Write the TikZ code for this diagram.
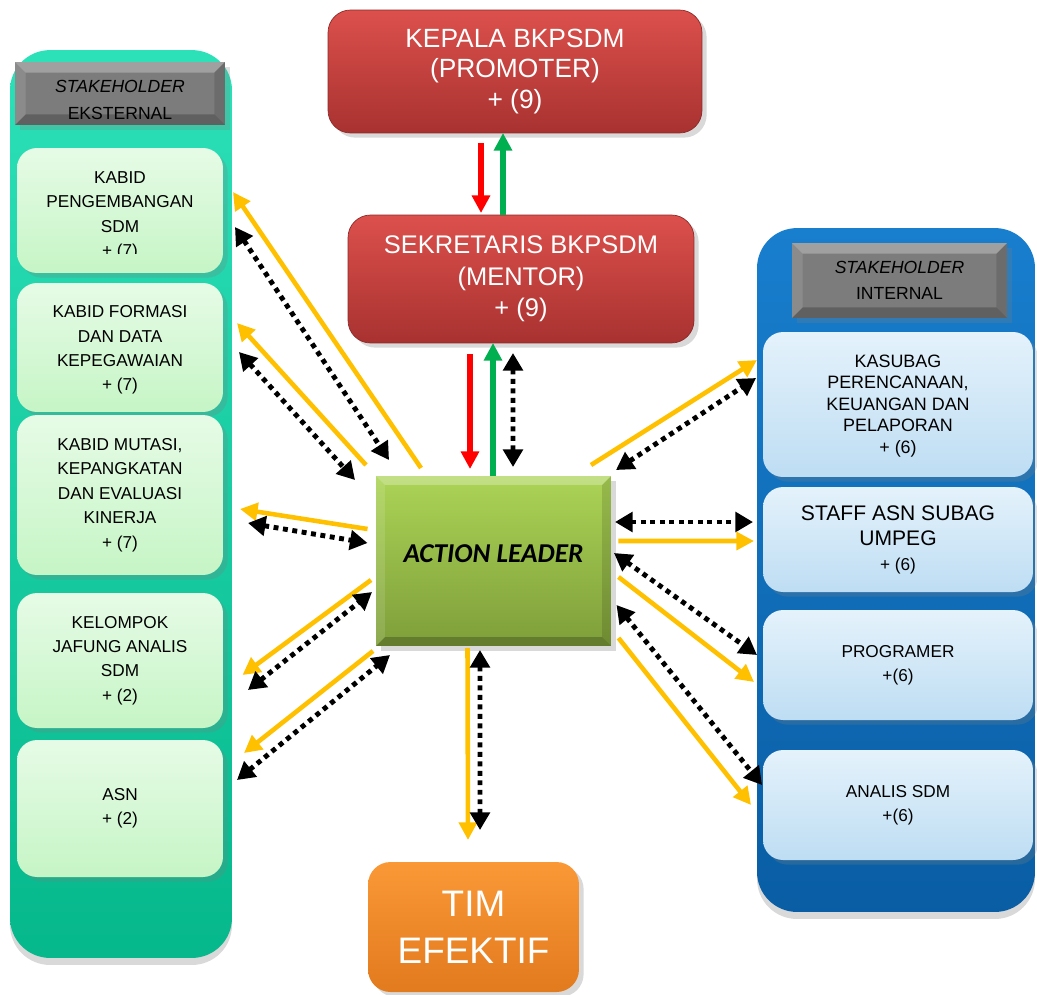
\documentclass[tikz,border=0pt]{standalone}
\usepackage{fontspec}
\setmainfont{Liberation Sans}
\newfontfamily\carlito{Carlito}
\usetikzlibrary{arrows.meta,shadows}

\definecolor{ArrowYellow}{RGB}{255,192,0}
\definecolor{ArrowRed}{RGB}{255,0,0}
\definecolor{ArrowGreen}{RGB}{0,176,80}
\definecolor{RedTop}{RGB}{220,80,76}
\definecolor{RedBot}{RGB}{168,50,48}
\definecolor{LeaderTop}{RGB}{172,212,86}
\definecolor{LeaderBot}{RGB}{126,158,58}
\definecolor{TimTop}{RGB}{250,152,54}
\definecolor{TimBot}{RGB}{226,122,30}
\definecolor{ExtTeal}{RGB}{6,200,152}
\definecolor{ExtTealTop}{RGB}{44,224,184}
\definecolor{ExtBoxTop}{RGB}{230,251,230}
\definecolor{ExtBoxBot}{RGB}{198,245,198}
\definecolor{IntBlue}{RGB}{10,106,186}
\definecolor{IntBlueTop}{RGB}{24,126,206}
\definecolor{IntBoxTop}{RGB}{228,242,251}
\definecolor{IntBoxBot}{RGB}{190,221,243}
\definecolor{HeadGray}{RGB}{124,124,124}

\newcommand{\lblfont}{\fontsize{9.8}{13.9}\selectfont}
\newcommand{\intfont}{\fontsize{10.2}{12.2}\selectfont}
\newcommand{\hdrfont}{\fontsize{10}{15.2}\selectfont}
\newcommand{\redfont}{\fontsize{15}{17.5}\selectfont}
\newcommand{\timfont}{\fontsize{21}{26.6}\selectfont}

\begin{document}
\begin{tikzpicture}[x=0.02cm, y=-0.02cm,
    every node/.style={inner sep=0pt, outer sep=0pt, align=center},
    bevel/.style={path picture={
        \fill[white,opacity=.28] (path picture bounding box.north west) -- (path picture bounding box.north east)
          -- ([shift={(-#1,-#1)}]path picture bounding box.north east) -- ([shift={(#1,-#1)}]path picture bounding box.north west) -- cycle; %top
        \fill[white,opacity=.12] (path picture bounding box.north west) -- ([shift={(#1,-#1)}]path picture bounding box.north west)
          -- ([shift={(#1,#1)}]path picture bounding box.south west) -- (path picture bounding box.south west) -- cycle; %left
        \fill[black,opacity=.22] (path picture bounding box.south west) -- (path picture bounding box.south east)
          -- ([shift={(-#1,#1)}]path picture bounding box.south east) -- ([shift={(#1,#1)}]path picture bounding box.south west) -- cycle; %bottom
        \fill[black,opacity=.12] (path picture bounding box.north east) -- ([shift={(-#1,-#1)}]path picture bounding box.north east)
          -- ([shift={(-#1,#1)}]path picture bounding box.south east) -- (path picture bounding box.south east) -- cycle; %right
    }},
    extpanel/.style={rounded corners=0.8cm, top color=ExtTealTop, middle color=ExtTeal, bottom color=ExtTeal!92!black,
        drop shadow={opacity=0.3, shadow xshift=0pt, shadow yshift=-4pt}},
    intpanel/.style={rounded corners=0.8cm, top color=IntBlueTop, middle color=IntBlue, bottom color=IntBlue!88!black,
        drop shadow={opacity=0.3, shadow xshift=0pt, shadow yshift=-4pt}},
    hdrbox/.style={fill=HeadGray, bevel=6pt, font=\hdrfont, drop shadow={opacity=0.25}},
    extbox/.style={rounded corners=0.4cm, top color=ExtBoxTop, bottom color=ExtBoxBot, minimum width=4.12cm,
        font=\lblfont, drop shadow={opacity=0.25}},
    intbox/.style={rounded corners=0.4cm, top color=IntBoxTop, bottom color=IntBoxBot, minimum width=5.4cm,
        font=\lblfont, drop shadow={opacity=0.25}},
    lbl/.style={font=\lblfont},
    redbox/.style={rounded corners=0.45cm, top color=RedTop, bottom color=RedBot, draw=RedBot!85!black,
        text=white, font=\redfont, drop shadow={opacity=0.3}},
    leaderbox/.style={top color=LeaderTop, bottom color=LeaderBot, bevel=5pt, drop shadow={opacity=0.3},
        font=\carlito\bfseries\itshape\fontsize{15.5}{18}\selectfont},
    timbox/.style={rounded corners=0.45cm, top color=TimTop, bottom color=TimBot, text=white, font=\timfont,
        drop shadow={opacity=0.3}},
    yarrow/.style={draw=ArrowYellow, line width=2.6pt, -{Triangle[length=10pt,width=10pt]}},
    rarrow/.style={draw=ArrowRed, line width=3pt, -{Triangle[length=10pt,width=10pt]}},
    garrow/.style={draw=ArrowGreen, line width=3pt, -{Triangle[length=10pt,width=10pt]}},
    darrow/.style={draw=black, line width=2.8pt, dash pattern=on 2.8pt off 2.6pt,
        {Triangle[length=10pt,width=11pt]}-{Triangle[length=10pt,width=11pt]}}]

    \useasboundingbox (0,0) rectangle (1037,994);

    %Stakeholder eksternal
    \node[extpanel, minimum width=4.44cm, minimum height=18.16cm] (ext) at (121,504) {};
    \node[hdrbox, minimum width=4.2cm, minimum height=1.26cm] (exthead) at (120,93.5) {};
    \node[font=\hdrfont] (extheadtxt) at (120,100) {\textit{STAKEHOLDER}\\EKSTERNAL}; %sits low in the box
    \node[extbox, minimum height=2.5cm] (ext1) at (120,210.5) {};
    \begin{scope}
        \clip (17,148) rectangle (223,253); %text cut off
        \node[lbl] (ext1txt) at (120,216) {KABID\\PENGEMBANGAN\\SDM\\+ (7)};
    \end{scope}
    \node[extbox, minimum height=2.58cm] (ext2) at (120,347.5) {};
    \begin{scope}
        \clip (17,283) rectangle (223,393); %text cut off
        \node[lbl] (ext2txt) at (120,350) {KABID FORMASI\\DAN DATA\\KEPEGAWAIAN\\+ (7)};
    \end{scope}
    \node[extbox, minimum height=3.2cm] (ext3) at (120,495) {KABID MUTASI,\\KEPANGKATAN\\DAN EVALUASI\\KINERJA\\+ (7)};
    \node[extbox, minimum height=2.7cm] (ext4) at (120,660.5) {KELOMPOK\\JAFUNG ANALIS\\SDM\\+ (2)};
    \node[extbox, minimum height=2.74cm] (ext5) at (120,808.5) {ASN\\+ (2)};

    %Stakeholder internal
    \node[intpanel, minimum width=5.56cm, minimum height=13.68cm] (int) at (896,570) {};
    \node[hdrbox, minimum width=4.3cm, minimum height=1.5cm] (inthead) at (899.5,280.5) {\textit{STAKEHOLDER}\\INTERNAL};
    \node[intbox, minimum height=2.9cm] (int1) at (898,404.5) {};
    \begin{scope}
        \clip (763,332) rectangle (1033,457); %text cut off
        \node[lbl, font=\intfont] (int1txt) at (898,406) {KASUBAG\\PERENCANAAN,\\KEUANGAN DAN\\PELAPORAN\\+ (6)};
    \end{scope}
    \node[intbox, minimum height=2.1cm, font=\fontsize{12}{14.2}\selectfont] (int2) at (898,539.5)
        {STAFF ASN SUBAG\\UMPEG\\{\lblfont + (6)}};
    \node[intbox, minimum height=2.2cm] (int3) at (898,665) {PROGRAMER\\+(6)};
    \node[intbox, minimum height=2.2cm] (int4) at (898,805) {ANALIS SDM\\+(6)};

    %Promoter, mentor, leader, team
    \node[redbox, minimum width=7.48cm, minimum height=2.46cm] (kepala) at (515,71.5) {KEPALA BKPSDM\\(PROMOTER)\\+ (9)};
    \node[redbox, minimum width=6.92cm, minimum height=2.56cm, font=\fontsize{14.5}{18}\selectfont] (sekr) at (521,279) {SEKRETARIS BKPSDM\\(MENTOR)\\+ (9)};
    \node[leaderbox, minimum width=4.7cm, minimum height=3.4cm] (al) at (493.5,561) {\raisebox{8pt}{ACTION LEADER}};
    \node[timbox, minimum width=4.22cm, minimum height=2.6cm] (tim) at (473.5,927) {TIM\\EFEKTIF};

    %Top chain
    \draw[rarrow] ([shift={(-34,10)}]kepala.south) -- ([shift={(-40,-2)}]sekr.north); %down
    \draw[garrow] ([shift={(-18,0)}]sekr.north) -- ([shift={(-12,0)}]kepala.south); %up
    \draw[rarrow] ([shift={(-51,11)}]sekr.south) -- ([shift={(-23.5,-7)}]al.north); %down
    \draw[garrow] ([shift={(-0.5,0)}]al.north) -- ([shift={(-28,0)}]sekr.south); %up
    \draw[darrow] ([shift={(-8,10)}]sekr.south) -- ([shift={(19.5,-9)}]al.north); %both ways

    %Left side
    \draw[yarrow] ([shift={(45,-8)}]al.north west) -- ([shift={(10,-18.5)}]ext1.east);
    \draw[darrow] ([shift={(12,16.5)}]ext1.east) -- ([shift={(13,-16)}]al.north west);
    \draw[yarrow] ([shift={(-10,-11)}]al.north west) -- ([shift={(14,-24.5)}]ext2.east);
    \draw[darrow] ([shift={(16,4.5)}]ext2.east) -- ([shift={(-21,4)}]al.north west);
    \draw[yarrow] ([shift={(-8.5,-32)}]al.west) -- ([shift={(17,14)}]ext3.east);
    \draw[darrow] ([shift={(25,28)}]ext3.east) -- ([shift={(-8.5,-18)}]al.west);
    \draw[yarrow] ([shift={(-5,19)}]al.west) -- ([shift={(19.5,14.5)}]ext4.east);
    \draw[darrow] ([shift={(25,29.5)}]ext4.east) -- ([shift={(-4,31)}]al.west);
    \draw[yarrow] ([shift={(-3,5)}]al.south west) -- ([shift={(21,-55.5)}]ext5.east);
    \draw[darrow] ([shift={(14,-28.5)}]ext5.east) -- ([shift={(14,9)}]al.south west);

    %Right side
    \draw[yarrow] ([shift={(-20,-11)}]al.north east) -- ([shift={(-6,-44.5)}]int1.west);
    \draw[darrow] ([shift={(5,-6)}]al.north east) -- ([shift={(-7,-26.5)}]int1.west);
    \draw[darrow] ([shift={(4,-39)}]al.east) -- ([shift={(-10,-17.5)}]int2.west);
    \draw[yarrow] ([shift={(7.5,-20)}]al.east) -- ([shift={(-9,1.5)}]int2.west);
    \draw[darrow] ([shift={(3,-8)}]al.east) -- ([shift={(-6,-10)}]int3.west);
    \draw[yarrow] ([shift={(7.5,16)}]al.east) -- ([shift={(-9,17)}]int3.west);
    \draw[darrow] ([shift={(5.5,44)}]al.east) -- ([shift={(-1,-20)}]int4.west);
    \draw[yarrow] ([shift={(7.5,-8)}]al.south east) -- ([shift={(-12,0)}]int4.west);

    %Down to the team
    \draw[yarrow] ([shift={(-26,2)}]al.south) -- ([shift={(-5.5,-22)}]tim.north);
    \draw[darrow] ([shift={(-13.5,4)}]al.south) -- ([shift={(6.5,-32)}]tim.north);

\end{tikzpicture}
\end{document}
